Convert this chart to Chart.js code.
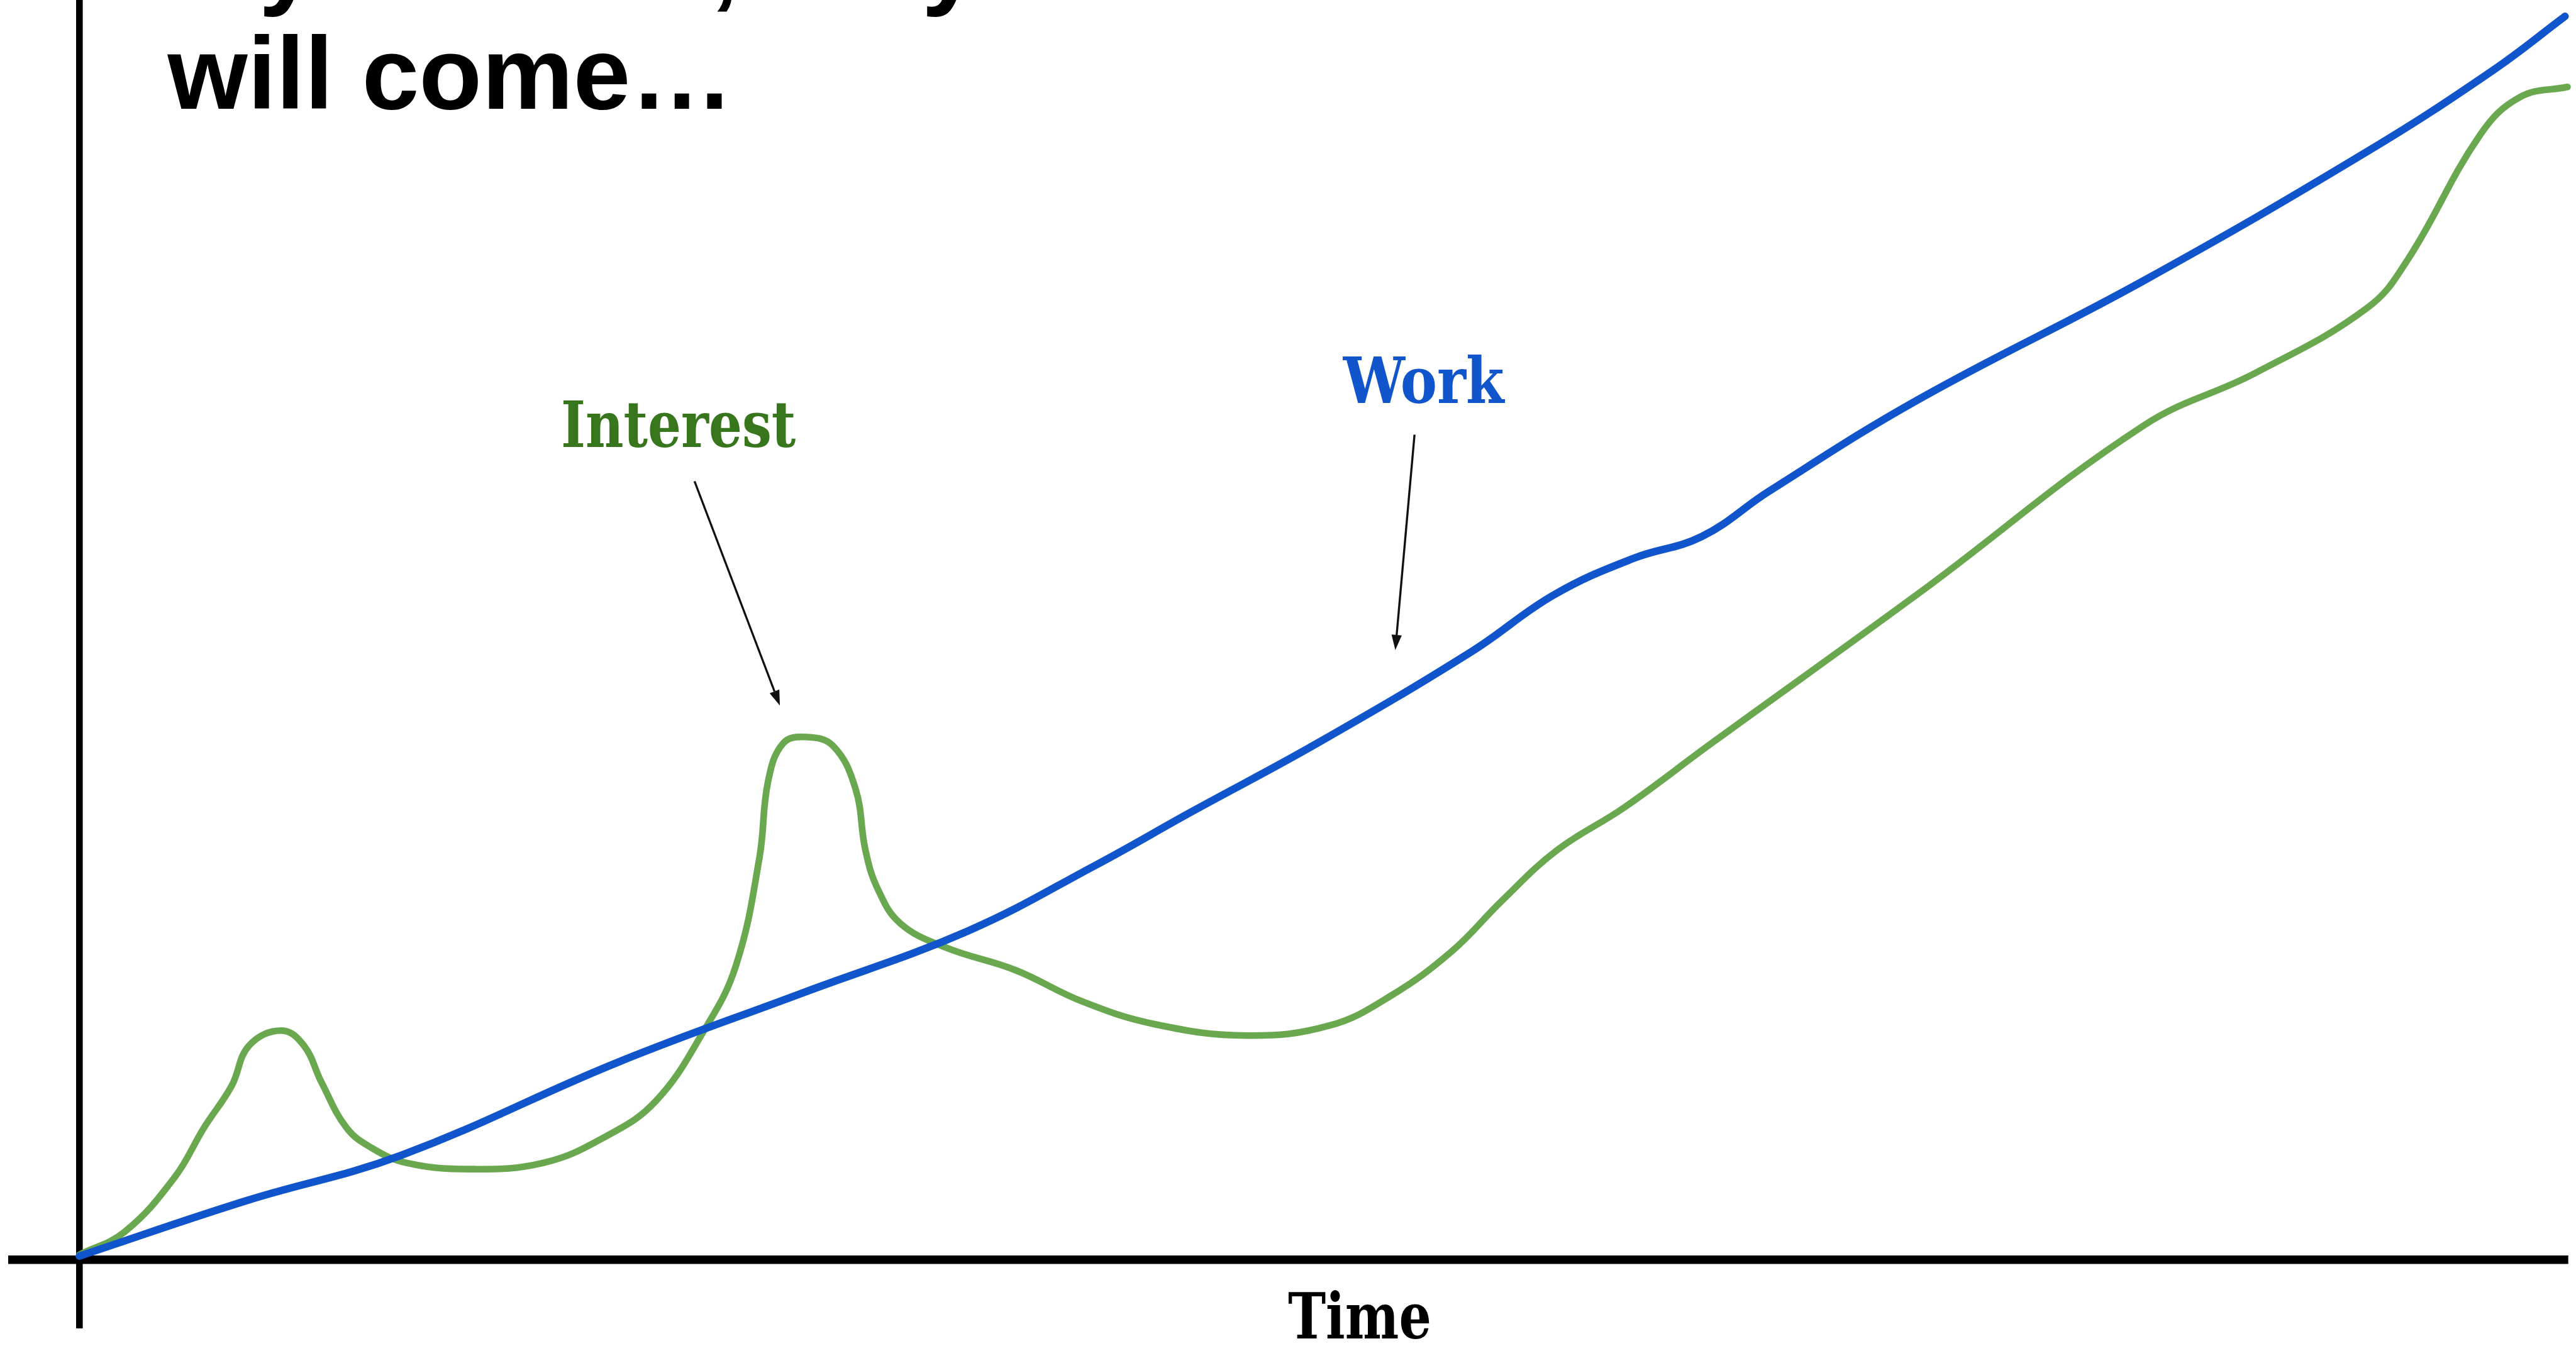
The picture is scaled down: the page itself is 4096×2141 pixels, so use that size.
<!DOCTYPE html>
<html>
<head>
<meta charset="utf-8">
<script src="https://cdn.jsdelivr.net/npm/chart.js@4.4.1/dist/chart.umd.min.js"></script>
<style>
  html, body { margin: 0; padding: 0; background: #fff; }
  #wrap { width: 4096px; height: 2141px; position: relative; }
</style>
</head>
<body>
<div id="wrap"><canvas id="chart"></canvas></div>
<script>
// time axis runs 0..100, height axis 0..100 (both arbitrary units)
var workTime = [0, 6.7, 12.9, 21.6, 29.0, 35.6, 40.7, 44.6, 49.6, 55.8, 59.1, 62.3, 65.0, 67.7,
    73.7, 82.7, 91.7, 96.7, 99.6];
var workLevel = [0.3, 4.7, 8.3, 15.7, 21.2, 26.1, 31.3, 35.6, 41.0, 48.3, 52.8, 55.7, 57.4, 61.0,
    68.3, 77.7, 88.0, 94.4, 98.7];

var interestTime = [0, 1.8, 3.8, 5.0, 6.1, 6.8, 8.1, 9.0, 9.7, 10.7, 11.7, 13.1, 15.6, 18.6,
    21.1, 23.1, 25.0, 26.3, 27.25, 27.6, 28.2, 29.1, 30.2, 31.1, 31.5, 32.0, 32.9, 34.7, 37.5,
    40.2, 43.1, 46.8, 50.1, 52.5, 55.0, 57.0, 59.2, 61.9, 65.4, 73.7, 82.7, 87.2, 91.7, 93.3,
    96.2, 97.8, 99.7];
var interestLevel = [0.4, 2.2, 6.5, 10.5, 13.8, 17.0, 18.2, 17.0, 14.1, 10.5, 8.9, 7.7, 7.2, 7.7,
    9.8, 12.6, 18.1, 23.3, 31.9, 38.0, 41.0, 41.5, 40.8, 37.4, 32.5, 29.4, 26.7, 24.8, 23.0,
    20.5, 18.7, 17.8, 18.6, 20.9, 24.5, 28.5, 32.5, 35.9, 41.0, 52.9, 66.2, 70.4, 75.6, 79.4,
    89.3, 92.3, 93.1];

var seriesNames = ["Work", "Interest"];
var axisName = "Time";
var titleLines = ["If you work, they", "will come\u2026"];

var S = 0.962; // reference -> window

function toPoints(xs, ys) {
    return xs.map(function(x, i) { return { x: x, y: ys[i] }; });
}

// labels and arrows, placed in data units
var notes = [
    { text: "Interest", color: "#38761d", x: 19.3, y: 64.5, width: 388, arrow: [24.65, 61.8, 28.07, 44.0] },
    { text: "Work", color: "#1155cc", x: 50.64, y: 68.0, width: 266, arrow: [53.5, 65.5, 52.73, 48.4] }
];

function drawArrow(ctx, x1, y1, x2, y2) {
    var a = Math.atan2(y2 - y1, x2 - x1);
    var head = 25 * S, half = 8.5 * S;
    var bx = x2 - head * Math.cos(a), by = y2 - head * Math.sin(a);
    ctx.strokeStyle = "#111";
    ctx.lineWidth = 3.5 * S;
    ctx.beginPath();
    ctx.moveTo(x1, y1);
    ctx.lineTo(bx, by);
    ctx.stroke();
    ctx.fillStyle = "#111";
    ctx.beginPath();
    ctx.moveTo(x2, y2);
    ctx.lineTo(bx - half * Math.sin(a), by + half * Math.cos(a));
    ctx.lineTo(bx + half * Math.sin(a), by - half * Math.cos(a));
    ctx.closePath();
    ctx.fill();
}

var annotate = {
    id: "annotate",
    afterDatasetsDraw: function(chart) {
        var ctx = chart.ctx;
        var xs = chart.scales.x, ys = chart.scales.y;
        ctx.save();

        // heading, its first line runs off the top
        ctx.fillStyle = "#000";
        ctx.textAlign = "left";
        ctx.textBaseline = "alphabetic";
        ctx.font = "bold " + (170 * S) + "px 'Liberation Sans', Arial, sans-serif";
        ctx.fillText(titleLines[0], 277 * S, -7 * S);
        ctx.fillText(titleLines[1], 277 * S, 180 * S);

        ctx.font = "bold " + (105 * S) + "px 'DejaVu Serif', serif";
        notes.forEach(function(n) {
            ctx.fillStyle = n.color;
            ctx.textAlign = "left";
            ctx.fillText(n.text, xs.getPixelForValue(n.x), ys.getPixelForValue(n.y), n.width * S);
            drawArrow(ctx,
                xs.getPixelForValue(n.arrow[0]), ys.getPixelForValue(n.arrow[1]),
                xs.getPixelForValue(n.arrow[2]), ys.getPixelForValue(n.arrow[3]));
        });

        // axis name under the time axis
        ctx.fillStyle = "#000";
        ctx.textAlign = "center";
        ctx.fillText(axisName, xs.getPixelForValue(51.3), ys.getPixelForValue(-6.25), 237 * S);
        ctx.restore();
    }
};

var onlyZero = function(scale) { scale.ticks = [{ value: 0 }]; };

var chart = new Chart(document.getElementById("chart").getContext("2d"), {
    type: "line",
    data: {
        datasets: [{
            label: seriesNames[0],
            data: toPoints(workTime, workLevel),
            borderColor: "#1155cc",
            borderWidth: 12.5 * S,
            tension: 0.4,
            borderCapStyle: "round",
            borderJoinStyle: "round",
            pointRadius: 0,
            fill: false,
            clip: false
        }, {
            label: seriesNames[1],
            data: toPoints(interestTime, interestLevel),
            borderColor: "#6aa84f",
            borderWidth: 11 * S,
            tension: 0.4,
            borderCapStyle: "round",
            borderJoinStyle: "round",
            pointRadius: 0,
            fill: false,
            clip: false
        }]
    },
    options: {
        responsive: true,
        maintainAspectRatio: false,
        devicePixelRatio: 1,
        animation: false,
        layout: {
            padding: { left: 14 * S, right: 4096 - 4245 * S, top: 0, bottom: 2141 - 2196 * S }
        },
        plugins: {
            legend: { display: false },
            tooltip: { enabled: false },
            title: { display: false }
        },
        scales: {
            x: {
                type: "linear",
                min: -2.84,
                max: 99.73,
                afterBuildTicks: onlyZero,
                ticks: { display: false },
                border: { display: false },
                grid: { color: "#000", lineWidth: 11 * S, drawTicks: false }
            },
            y: {
                type: "linear",
                min: -5.42,
                max: 100,
                afterBuildTicks: onlyZero,
                ticks: { display: false },
                border: { display: false },
                grid: { color: "#000", lineWidth: 14 * S, drawTicks: false }
            }
        }
    },
    plugins: [annotate]
});
</script>
</body>
</html>
